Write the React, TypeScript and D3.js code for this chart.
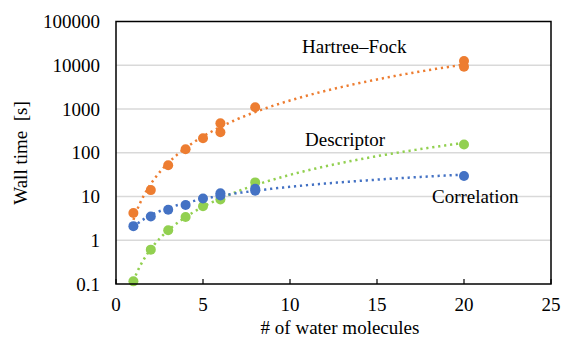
import * as d3 from "d3";

// water-cluster sizes and measured wall times (s)
const hfX = [1, 2, 3, 4, 5, 6, 6, 8, 20, 20];
const hfY = [4.2, 14, 52, 120, 215, 470, 295, 1100, 12500, 9300];

const descX = [1, 2, 3, 4, 5, 6, 8, 20];
const descY = [0.115, 0.61, 1.7, 3.4, 6.0, 8.5, 21, 155];

const corrX = [1, 2, 3, 4, 5, 6, 6, 8, 8, 20];
const corrY = [2.1, 3.5, 5.0, 6.4, 9.0, 11.8, 10.5, 15, 13.5, 29.5];

const xTicks = [0, 5, 10, 15, 20, 25];
const yTicks = [0.1, 1, 10, 100, 1000, 10000, 100000];
const yTickLabels = ["0.1", "1", "10", "100", "1000", "10000", "100000"];

const W = 562, H = 341;
const left = 116, right = 551, top = 21.5, bottom = 284;
const txt = { fontFamily: "'Liberation Serif', 'Times New Roman', Times, serif", fontSize: "19px" };

// least-squares power fit y = a*x^b, like the spreadsheet trendline
function powerFit(xs: number[], ys: number[]) {
  const lx = xs.map(Math.log), ly = ys.map(Math.log);
  const mx = d3.mean(lx)!, my = d3.mean(ly)!;
  const b = d3.sum(lx, (v, i) => (v - mx) * (ly[i] - my)) / d3.sum(lx, v => (v - mx) ** 2);
  const a = Math.exp(my - b * mx);
  return (x: number) => a * Math.pow(x, b);
}

export default function App() {
  const x = d3.scaleLinear().domain([0, 25]).range([left, right]);
  const y = d3.scaleLog().domain([0.1, 100000]).range([bottom, top]);

  const series = [
    { xs: hfX, ys: hfY, color: "#ED7D31" },
    { xs: descX, ys: descY, color: "#92D050" },
    { xs: corrX, ys: corrY, color: "#4472C4" },
  ];

  const line = d3.line<number[]>().x(d => x(d[0])).y(d => y(d[1]));
  const steps = d3.range(1, 20.01, 0.1);

  return (
    <svg width={W} height={H} style={{ position: "absolute", left: 0, top: 0 }}>
      <rect width={W} height={H} fill="#fff" />
      {yTicks.slice(1, -1).map(t => (
        <line key={t} x1={left} x2={right} y1={y(t)} y2={y(t)} stroke="#d9d9d9" strokeWidth={1.5} />
      ))}
      {series.map((s, i) => {
        const f = powerFit(s.xs, s.ys);
        return (
          <path key={"t" + i} d={line(steps.map(v => [v, f(v)]))!} fill="none"
            stroke={s.color} strokeWidth={2.5} strokeDasharray="2.2 3.8" />
        );
      })}
      {series.map((s, i) => (
        <g key={"p" + i}>
          {s.xs.map((v, j) => (
            <circle key={j} cx={x(v)} cy={y(s.ys[j])} r={5} fill={s.color} />
          ))}
        </g>
      ))}
      <rect x={left} y={top} width={right - left} height={bottom - top} fill="none" stroke="#000" strokeWidth={1.5} />
      {xTicks.map(t => (
        <g key={t}>
          <line x1={x(t)} x2={x(t)} y1={bottom} y2={bottom - 5} stroke="#000" strokeWidth={1.2} />
          <text x={x(t)} y={bottom + 27} textAnchor="middle" style={txt}>{t}</text>
        </g>
      ))}
      {yTicks.map((t, i) => (
        <text key={t} x={100} y={y(t)} dy="0.35em" textAnchor="end" style={txt}>{yTickLabels[i]}</text>
      ))}
      <text x={340} y={334} textAnchor="middle" style={txt}># of water molecules</text>
      <text transform={`translate(27,153) rotate(-90)`} textAnchor="middle"
        style={{ ...txt, whiteSpace: "pre" }}>{"Wall time  [s]"}</text>
      <text x={302} y={53} style={txt}>Hartree–Fock</text>
      <text x={305} y={146} style={txt}>Descriptor</text>
      <text x={432} y={203} style={txt}>Correlation</text>
    </svg>
  );
}
